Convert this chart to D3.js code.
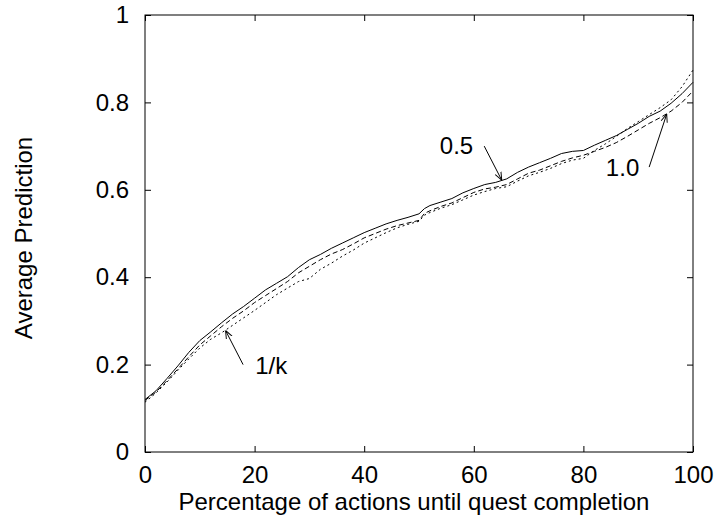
<!DOCTYPE html>
<html>
<head>
<meta charset="utf-8">
<script src="https://cdn.jsdelivr.net/npm/d3@7"></script>
<style>
  body { margin: 0; background: #fff; }
  svg text { font-family: "Liberation Sans", Arial, sans-serif; fill: #000; }
</style>
</head>
<body>
<div id="chart"></div>
<script>
// x positions (percentage of actions)
var xValues = [0, 2, 4, 6, 8, 10, 12, 14, 16, 18, 20, 22, 24, 26, 28, 30, 32, 34, 36, 38, 40,
  42, 44, 46, 48, 50, 51, 52, 54, 56, 58, 60, 62, 64, 66, 68, 70, 72, 74, 76, 78, 80,
  82, 84, 86, 88, 90, 92, 94, 96, 98, 100];

// solid line, labelled 0.5
var series05 = [0.120, 0.140, 0.168, 0.197, 0.228, 0.255, 0.275, 0.296, 0.316, 0.333, 0.352,
  0.371, 0.386, 0.401, 0.422, 0.440, 0.452, 0.466, 0.478, 0.490, 0.502,
  0.512, 0.522, 0.530, 0.537, 0.545, 0.557, 0.564, 0.572, 0.580, 0.593, 0.603,
  0.612, 0.617, 0.625, 0.640, 0.652, 0.662, 0.672, 0.683, 0.688, 0.690,
  0.702, 0.713, 0.724, 0.738, 0.752, 0.768, 0.780, 0.798, 0.820, 0.846];

// dashed line, labelled 1.0
var series10 = [0.118, 0.137, 0.163, 0.190, 0.218, 0.245, 0.266, 0.287, 0.306, 0.323, 0.342,
  0.358, 0.374, 0.390, 0.410, 0.425, 0.440, 0.453, 0.463, 0.476, 0.490,
  0.500, 0.510, 0.518, 0.524, 0.530, 0.546, 0.552, 0.562, 0.570, 0.582, 0.594,
  0.602, 0.606, 0.612, 0.625, 0.638, 0.645, 0.655, 0.665, 0.673, 0.679,
  0.688, 0.697, 0.708, 0.722, 0.737, 0.752, 0.765, 0.780, 0.800, 0.826];

// dotted line, labelled 1/k
var series1k = [0.114, 0.135, 0.160, 0.187, 0.213, 0.238, 0.258, 0.273, 0.290, 0.307, 0.324,
  0.342, 0.360, 0.375, 0.390, 0.397, 0.418, 0.432, 0.448, 0.462, 0.478,
  0.490, 0.502, 0.513, 0.521, 0.528, 0.542, 0.548, 0.558, 0.566, 0.577, 0.588,
  0.596, 0.603, 0.607, 0.620, 0.632, 0.640, 0.649, 0.660, 0.668, 0.672,
  0.690, 0.705, 0.722, 0.740, 0.756, 0.772, 0.788, 0.806, 0.836, 0.874];

var xTicks = [0, 20, 40, 60, 80, 100];
var yTicks = [0, 0.2, 0.4, 0.6, 0.8, 1];

// label text + arrow (data coords)
var labels = [
  {text: "0.5", x: 53.8, y: 0.681, from: [61.9, 0.700], to: [65.1, 0.622]},
  {text: "1.0", x: 84.1, y: 0.631, from: [92.0, 0.652], to: [95.2, 0.773]},
  {text: "1/k", x: 20.1, y: 0.178, from: [17.9, 0.200], to: [14.7, 0.278]}
];

var svgWidth = 715;
var svgHeight = 515;
var margin = {top: 15, right: 22, bottom: 63, left: 145};
var chartWidth = svgWidth - margin.left - margin.right;
var chartHeight = svgHeight - margin.top - margin.bottom;
var fontSize = "24px";

var svg = d3.select("#chart")
  .append("svg")
  .attr("width", svgWidth)
  .attr("height", svgHeight);

var defs = svg.append("defs");
defs.append("marker")
  .attr("id", "arrowhead")
  .attr("viewBox", "0 0 10 10")
  .attr("refX", 10)
  .attr("refY", 5)
  .attr("markerUnits", "userSpaceOnUse")
  .attr("markerWidth", 8)
  .attr("markerHeight", 8)
  .attr("orient", "auto")
  .append("path")
  .attr("d", "M0,1 L10,5 L0,9")
  .attr("fill", "none")
  .attr("stroke", "#000")
  .attr("stroke-width", 1.2);

var chartGroup = svg.append("g")
  .attr("transform", `translate(${margin.left}, ${margin.top})`);

var xScale = d3.scaleLinear().domain([0, 100]).range([0, chartWidth]);
var yScale = d3.scaleLinear().domain([0, 1]).range([chartHeight, 0]);

// axes with inward ticks
var bottomAxis = d3.axisBottom(xScale).tickValues(xTicks).tickSize(-6).tickPadding(14);
var leftAxis = d3.axisLeft(yScale).tickValues(yTicks).tickSize(-6).tickPadding(16)
  .tickFormat(d3.format("~g"));
var topAxis = d3.axisTop(xScale).tickValues(xTicks).tickSize(-6).tickFormat("");
var rightAxis = d3.axisRight(yScale).tickValues(yTicks).tickSize(-6).tickFormat("");

function styleAxis(g) {
  g.select(".domain").remove();
  g.selectAll("line").attr("stroke", "#000");
  g.selectAll("text").attr("font-size", fontSize);
}

chartGroup.append("g").attr("transform", `translate(0, ${chartHeight})`).call(bottomAxis).call(styleAxis);
chartGroup.append("g").call(leftAxis).call(styleAxis);
chartGroup.append("g").call(topAxis).call(styleAxis);
chartGroup.append("g").attr("transform", `translate(${chartWidth}, 0)`).call(rightAxis).call(styleAxis);

chartGroup.append("rect")
  .attr("x", 0).attr("y", 0)
  .attr("width", chartWidth).attr("height", chartHeight)
  .attr("fill", "none")
  .attr("stroke", "#000")
  .attr("stroke-width", 1);

// lines
var seriesList = [
  {values: series1k, dash: "2,3"},
  {values: series10, dash: "5,3"},
  {values: series05, dash: null}
];

var line = d3.line()
  .x(d => xScale(d[0]))
  .y(d => yScale(d[1]));

seriesList.forEach(function(s) {
  var pts = xValues.map((x, i) => [x, s.values[i]]);
  chartGroup.append("path")
    .datum(pts)
    .attr("d", line)
    .attr("fill", "none")
    .attr("stroke", "#000")
    .attr("stroke-width", 1)
    .attr("stroke-dasharray", s.dash);
});

// annotations
labels.forEach(function(l) {
  chartGroup.append("text")
    .attr("x", xScale(l.x))
    .attr("y", yScale(l.y))
    .attr("font-size", fontSize)
    .text(l.text);
  chartGroup.append("line")
    .attr("x1", xScale(l.from[0])).attr("y1", yScale(l.from[1]))
    .attr("x2", xScale(l.to[0])).attr("y2", yScale(l.to[1]))
    .attr("stroke", "#000")
    .attr("stroke-width", 1)
    .attr("marker-end", "url(#arrowhead)");
});

// axis titles
svg.append("text")
  .attr("x", margin.left + chartWidth / 2 - 5)
  .attr("y", 510)
  .attr("text-anchor", "middle")
  .attr("font-size", fontSize)
  .text("Percentage of actions until quest completion");

svg.append("text")
  .attr("transform", "rotate(-90)")
  .attr("x", -238)
  .attr("y", 32)
  .attr("text-anchor", "middle")
  .attr("font-size", fontSize)
  .text("Average Prediction");
</script>
</body>
</html>
